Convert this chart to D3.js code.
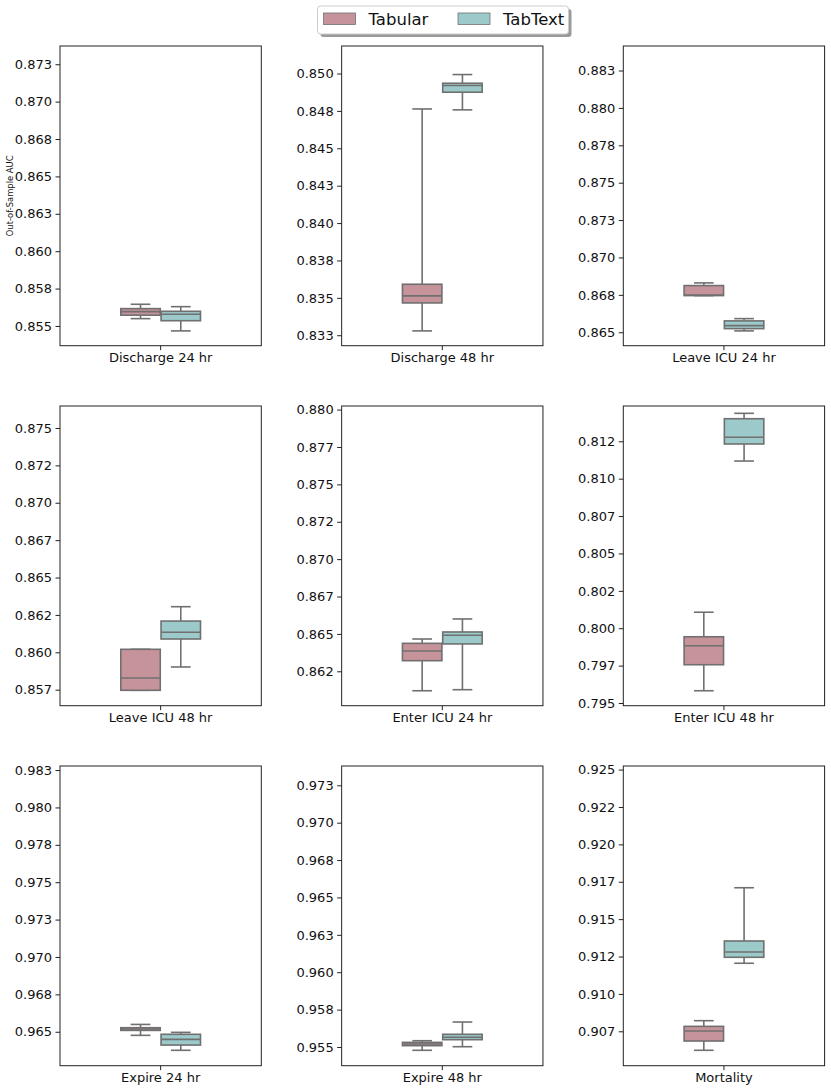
<!DOCTYPE html>
<html>
<head>
<meta charset="utf-8">
<script src="https://cdn.jsdelivr.net/npm/d3@7"></script>
<style>
  body { margin: 0; background: #fff; }
  svg { display: block; font-family: 'DejaVu Sans', sans-serif; }
</style>
</head>
<body>
<svg id="chart" width="831" height="1090"></svg>
<script>
// one panel per prediction task
const tasks = [
  'Discharge 24 hr', 'Discharge 48 hr', 'Leave ICU 24 hr',
  'Leave ICU 48 hr', 'Enter ICU 24 hr', 'Enter ICU 48 hr',
  'Expire 24 hr', 'Expire 48 hr', 'Mortality'
];
const groups = ['Tabular', 'TabText'];

// box stats: [lower whisker, q1, median, q3, upper whisker]
const tabularStats = [
  [0.85549, 0.85572, 0.85596, 0.85616, 0.85645],
  [0.83279, 0.83466, 0.83513, 0.83591, 0.84763],
  [0.86745, 0.86745, 0.86749, 0.86812, 0.86830],
  [0.85746, 0.85746, 0.85828, 0.86020, 0.86020],
  [0.86120, 0.86321, 0.86386, 0.86437, 0.86466],
  [0.79582, 0.79756, 0.79883, 0.79943, 0.80107],
  [0.96476, 0.96509, 0.96518, 0.96527, 0.96549],
  [0.95478, 0.95509, 0.95520, 0.95531, 0.95542],
  [0.90623, 0.90685, 0.90752, 0.90783, 0.90821]
];
const tabTextStats = [
  [0.85467, 0.85535, 0.85578, 0.85598, 0.85629],
  [0.84757, 0.84875, 0.84920, 0.84935, 0.84993],
  [0.86509, 0.86524, 0.86544, 0.86576, 0.86591],
  [0.85902, 0.86089, 0.86134, 0.86209, 0.86305],
  [0.86127, 0.86433, 0.86491, 0.86513, 0.86600],
  [0.81118, 0.81232, 0.81277, 0.81401, 0.81437],
  [0.96376, 0.96411, 0.96449, 0.96483, 0.96496],
  [0.95502, 0.95549, 0.95565, 0.95585, 0.95667],
  [0.91205, 0.91245, 0.91280, 0.91354, 0.91710]
];

const yLimits = [
  [0.85368, 0.87372], [0.83180, 0.85184], [0.86410, 0.88414],
  [0.85643, 0.87647], [0.86020, 0.88024], [0.79482, 0.81486],
  [0.96273, 0.98277], [0.95375, 0.97379], [0.90520, 0.92524]
];

const tickValues = [
  [0.855, 0.8575, 0.86, 0.8625, 0.865, 0.8675, 0.87, 0.8725],
  [0.8325, 0.835, 0.8375, 0.84, 0.8425, 0.845, 0.8475, 0.85],
  [0.865, 0.8675, 0.87, 0.8725, 0.875, 0.8775, 0.88, 0.8825],
  [0.8575, 0.86, 0.8625, 0.865, 0.8675, 0.87, 0.8725, 0.875],
  [0.8625, 0.865, 0.8675, 0.87, 0.8725, 0.875, 0.8775, 0.88],
  [0.795, 0.7975, 0.8, 0.8025, 0.805, 0.8075, 0.81, 0.8125],
  [0.965, 0.9675, 0.97, 0.9725, 0.975, 0.9775, 0.98, 0.9825],
  [0.955, 0.9575, 0.96, 0.9625, 0.965, 0.9675, 0.97, 0.9725],
  [0.9075, 0.91, 0.9125, 0.915, 0.9175, 0.92, 0.9225, 0.925]
];
const tickLabels = [
  ['0.855', '0.858', '0.860', '0.863', '0.865', '0.868', '0.870', '0.873'],
  ['0.833', '0.835', '0.838', '0.840', '0.843', '0.845', '0.848', '0.850'],
  ['0.865', '0.868', '0.870', '0.873', '0.875', '0.878', '0.880', '0.883'],
  ['0.857', '0.860', '0.862', '0.865', '0.867', '0.870', '0.872', '0.875'],
  ['0.862', '0.865', '0.867', '0.870', '0.872', '0.875', '0.877', '0.880'],
  ['0.795', '0.797', '0.800', '0.802', '0.805', '0.807', '0.810', '0.812'],
  ['0.965', '0.968', '0.970', '0.973', '0.975', '0.978', '0.980', '0.983'],
  ['0.955', '0.958', '0.960', '0.963', '0.965', '0.968', '0.970', '0.973'],
  ['0.907', '0.910', '0.912', '0.915', '0.917', '0.920', '0.922', '0.925']
];

const COLORS = { Tabular: '#c6939a', TabText: '#9cc9c9' };
const EDGE = '#707070';
const FONT = "'DejaVu Sans', sans-serif";

const PANEL = { LEFT: 60, TOP: 46, WIDTH: 201.3, HEIGHT: 299.7, COL_STEP: 281.65, ROW_STEP: 360 };

const svg = d3.select('#chart');

tasks.forEach((task, i) => {
  const col = i % 3;
  const row = Math.floor(i / 3);
  const x0 = PANEL.LEFT + col * PANEL.COL_STEP;
  const y0 = PANEL.TOP + row * PANEL.ROW_STEP;

  const g = svg.append('g').attr('transform', `translate(${x0},${y0})`);

  const y = d3.scaleLinear().domain(yLimits[i]).range([PANEL.HEIGHT, 0]);
  const xCat = d3.scaleBand().domain([task]).range([0, PANEL.WIDTH]);
  const center = xCat(task) + xCat.bandwidth() / 2;
  const xHue = d3.scaleBand()
    .domain(groups)
    .range([center - 0.2 * PANEL.WIDTH, center + 0.2 * PANEL.WIDTH])
    .paddingInner(0);

  // y axis
  const yAxis = g.append('g')
    .call(d3.axisLeft(y)
      .tickValues(tickValues[i])
      .tickFormat((d, k) => tickLabels[i][k])
      .tickSize(4.5)
      .tickPadding(3.5))
    .attr('font-family', FONT)
    .attr('font-size', 13);
  yAxis.select('.domain').remove();
  yAxis.selectAll('line').attr('stroke', '#222').attr('stroke-width', 1);
  yAxis.selectAll('text').attr('fill', '#111');

  // x axis
  const xAxis = g.append('g')
    .attr('transform', `translate(0,${PANEL.HEIGHT})`)
    .call(d3.axisBottom(xCat).tickSize(4.5).tickPadding(2.5))
    .attr('font-family', FONT)
    .attr('font-size', 13);
  xAxis.select('.domain').remove();
  xAxis.selectAll('line').attr('stroke', '#222').attr('stroke-width', 1);
  xAxis.selectAll('text').attr('fill', '#111');

  // boxes
  const stats = { Tabular: tabularStats[i], TabText: tabTextStats[i] };
  groups.forEach((grp) => {
    const [lo, q1, med, q3, hi] = stats[grp];
    const bw = xHue.bandwidth() * 0.98;
    const bx = xHue(grp) + (xHue.bandwidth() - bw) / 2;
    const cx = bx + bw / 2;
    const bg = g.append('g')
      .attr('stroke', EDGE)
      .attr('stroke-width', 1.6)
      .attr('fill', 'none');

    bg.append('line').attr('x1', cx).attr('x2', cx).attr('y1', y(q3)).attr('y2', y(hi));
    bg.append('line').attr('x1', cx).attr('x2', cx).attr('y1', y(q1)).attr('y2', y(lo));
    bg.append('line').attr('x1', cx - bw / 4).attr('x2', cx + bw / 4).attr('y1', y(hi)).attr('y2', y(hi));
    bg.append('line').attr('x1', cx - bw / 4).attr('x2', cx + bw / 4).attr('y1', y(lo)).attr('y2', y(lo));
    bg.append('rect')
      .attr('x', bx)
      .attr('y', y(q3))
      .attr('width', bw)
      .attr('height', Math.max(0.5, y(q1) - y(q3)))
      .attr('fill', COLORS[grp]);
    bg.append('line').attr('x1', bx).attr('x2', bx + bw).attr('y1', y(med)).attr('y2', y(med));
  });

  // frame
  g.append('rect')
    .attr('width', PANEL.WIDTH)
    .attr('height', PANEL.HEIGHT)
    .attr('fill', 'none')
    .attr('stroke', '#222')
    .attr('stroke-width', 1);

  if (i === 0) {
    g.append('text')
      .attr('transform', `translate(-50,${PANEL.HEIGHT / 2})rotate(-90)`)
      .attr('text-anchor', 'middle')
      .attr('dy', '0.35em')
      .style('font-size', '8.4px')
      .attr('fill', '#111')
      .text('Out-of-Sample AUC');
  }
});

// legend
const legend = svg.append('g').attr('transform', 'translate(317.5,6)');
legend.append('rect')
  .attr('x', 3).attr('y', 3)
  .attr('width', 251).attr('height', 28)
  .attr('rx', 3)
  .attr('fill', '#9a9a9a');
legend.append('rect')
  .attr('width', 251).attr('height', 28)
  .attr('rx', 3)
  .attr('fill', '#fff')
  .attr('stroke', '#cccccc')
  .attr('stroke-width', 1);

const legendX = d3.scaleOrdinal().domain(groups).range([6, 140.5]);
groups.forEach((grp) => {
  const item = legend.append('g').attr('transform', `translate(${legendX(grp)},7)`);
  item.append('rect')
    .attr('width', 32).attr('height', 11.5)
    .attr('fill', COLORS[grp])
    .attr('stroke', EDGE)
    .attr('stroke-width', 0.8);
  item.append('text')
    .attr('x', 45)
    .attr('y', 12)
    .style('font-size', '16.5px')
    .attr('fill', '#111')
    .text(grp);
});
</script>
</body>
</html>
